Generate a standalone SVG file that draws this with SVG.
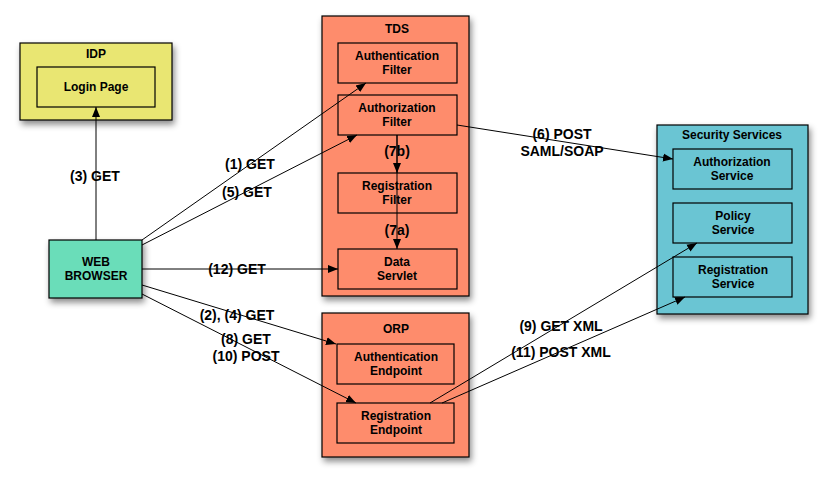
<svg xmlns="http://www.w3.org/2000/svg" width="828" height="481" viewBox="0 0 828 481">
<defs>
<filter id="sh" x="-10%" y="-10%" width="130%" height="130%">
<feDropShadow dx="2" dy="4" stdDeviation="3" flood-color="#000" flood-opacity="0.45"/>
</filter>
<marker id="ah" viewBox="0 0 10 10" refX="10" refY="5" markerWidth="10" markerHeight="10" markerUnits="userSpaceOnUse" orient="auto">
<path d="M0,1 L10,5 L0,9 Z" fill="#000"/>
</marker>
<style>
text{font-family:"Liberation Sans",Arial,Helvetica,sans-serif;font-weight:bold;fill:#000;text-anchor:middle}
.t{font-size:12px}
.l{font-size:14px}
.box{stroke:#000;stroke-width:1.2}
.in{fill:none;stroke:#000;stroke-width:1.2}
.c{fill:none;stroke:#000;stroke-width:1;marker-end:url(#ah)}
</style>
</defs>
<rect width="828" height="481" fill="#fff"/>

<g id="idp">
<rect class="box" x="20" y="43" width="152" height="77" fill="#E9E672" filter="url(#sh)"/>
<text class="t" x="96" y="58">IDP</text>
<g id="login-page">
<rect class="in" x="37" y="67" width="118" height="40"/>
<text class="t" x="96" y="91">Login Page</text>
</g>
</g>

<g id="web-browser">
<rect class="box" x="49" y="240" width="93" height="58" fill="#6BDDB9" filter="url(#sh)"/>
<text class="t" x="96" y="266">WEB</text>
<text class="t" x="96" y="280">BROWSER</text>
</g>

<g id="tds">
<rect class="box" x="322" y="16" width="147" height="280" fill="#FE8C6C" filter="url(#sh)"/>
<text class="t" x="397" y="33">TDS</text>
<g id="authn-filter">
<rect class="in" x="338" y="43" width="119" height="40"/>
<text class="t" x="397" y="60">Authentication</text>
<text class="t" x="397" y="74">Filter</text>
</g>
<g id="authz-filter">
<rect class="in" x="338" y="95" width="119" height="40"/>
<text class="t" x="397" y="112">Authorization</text>
<text class="t" x="397" y="126">Filter</text>
</g>
<g id="reg-filter">
<rect class="in" x="338" y="173" width="119" height="40"/>
<text class="t" x="397" y="190">Registration</text>
<text class="t" x="397" y="204">Filter</text>
</g>
<g id="data-servlet">
<rect class="in" x="338" y="249" width="119" height="40"/>
<text class="t" x="397" y="266">Data</text>
<text class="t" x="397" y="280">Servlet</text>
</g>
</g>

<g id="orp">
<rect class="box" x="322" y="313" width="147" height="144" fill="#FE8C6C" filter="url(#sh)"/>
<text class="t" x="396" y="333">ORP</text>
<g id="authn-endpoint">
<rect class="in" x="337" y="344" width="117" height="40"/>
<text class="t" x="396" y="361">Authentication</text>
<text class="t" x="396" y="375">Endpoint</text>
</g>
<g id="reg-endpoint">
<rect class="in" x="337" y="403" width="117" height="40"/>
<text class="t" x="396" y="420">Registration</text>
<text class="t" x="396" y="434">Endpoint</text>
</g>
</g>

<g id="security-services">
<rect class="box" x="657" y="125" width="151" height="189" fill="#6AC5D3" filter="url(#sh)"/>
<text class="t" x="732" y="139">Security Services</text>
<g id="authz-service">
<rect class="in" x="673" y="149" width="119" height="40"/>
<text class="t" x="732" y="166">Authorization</text>
<text class="t" x="732" y="180">Service</text>
</g>
<g id="policy-service">
<rect class="in" x="673" y="203" width="119" height="40"/>
<text class="t" x="733" y="220">Policy</text>
<text class="t" x="733" y="234">Service</text>
</g>
<g id="reg-service">
<rect class="in" x="673" y="257" width="119" height="40"/>
<text class="t" x="733" y="274">Registration</text>
<text class="t" x="733" y="288">Service</text>
</g>
</g>

<g id="connectors">
<line class="c" x1="96" y1="240" x2="96" y2="107"/>
<line class="c" x1="142" y1="240" x2="366" y2="83"/>
<line class="c" x1="142" y1="245" x2="357" y2="135"/>
<line class="c" x1="142" y1="269" x2="338" y2="269"/>
<line class="c" x1="397" y1="135" x2="397" y2="173"/>
<line class="c" x1="397" y1="135" x2="397" y2="249"/>
<line class="c" x1="457" y1="125" x2="673" y2="159"/>
<line class="c" x1="142" y1="285" x2="336" y2="344"/>
<line class="c" x1="142" y1="294" x2="356" y2="403"/>
<line class="c" x1="430" y1="403" x2="697" y2="243"/>
<line class="c" x1="442" y1="403" x2="685" y2="297"/>
<text class="l" x="95" y="181">(3) GET</text>
<text class="l" x="250" y="169">(1) GET</text>
<text class="l" x="247" y="197">(5) GET</text>
<text class="l" x="237" y="274">(12) GET</text>
<text class="l" x="397" y="156">(7b)</text>
<text class="l" x="397" y="235">(7a)</text>
<text class="l" x="562" y="139">(6) POST</text>
<text class="l" x="562" y="156">SAML/SOAP</text>
<text class="l" x="237" y="320">(2), (4) GET</text>
<text class="l" x="246" y="344">(8) GET</text>
<text class="l" x="246" y="361">(10) POST</text>
<text class="l" x="561" y="331">(9) GET XML</text>
<text class="l" x="561" y="357">(11) POST XML</text>
</g>
</svg>
